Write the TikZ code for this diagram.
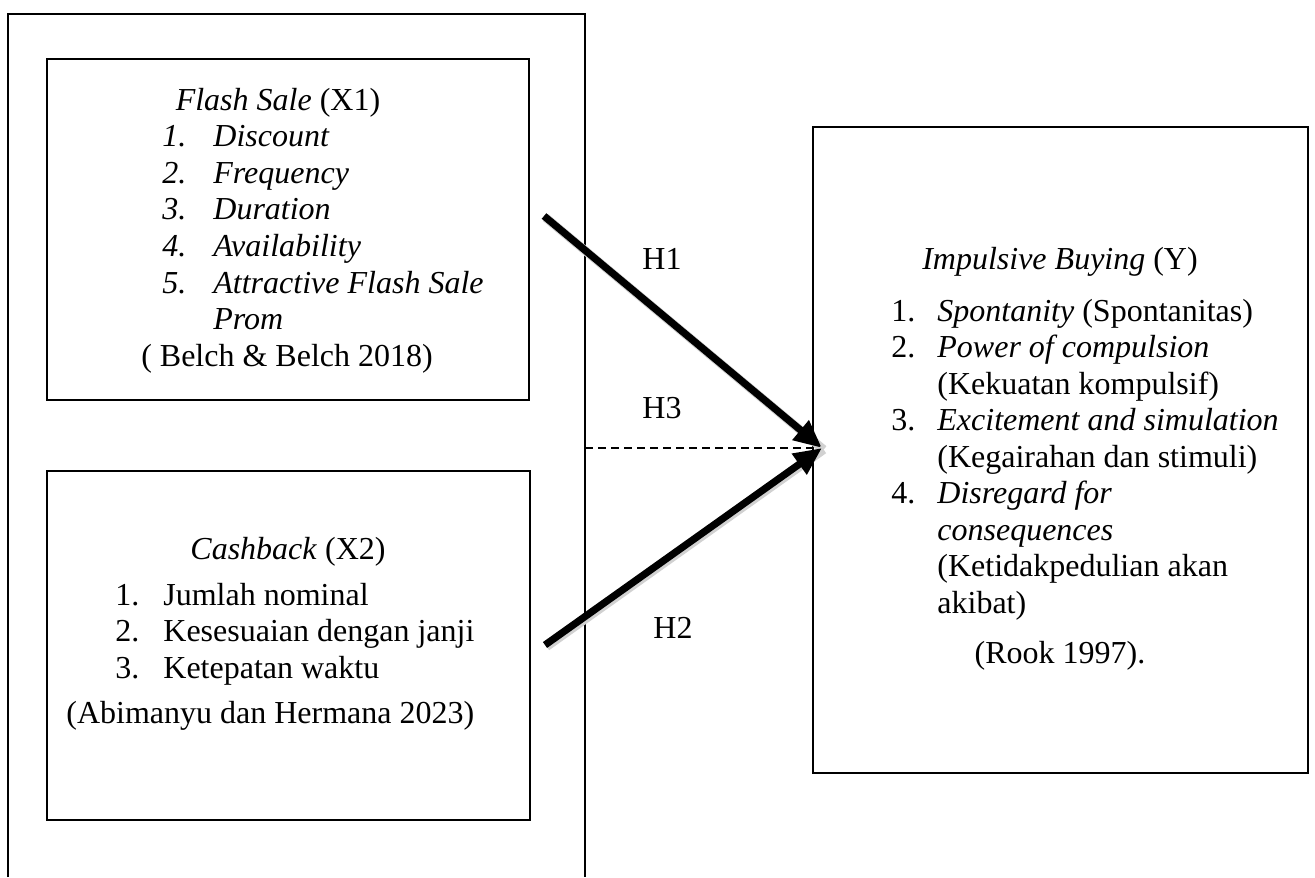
\documentclass[tikz,border=0pt]{standalone}
\usepackage{fontspec}
\setmainfont{Liberation Serif}
\usetikzlibrary{arrows.meta}
\tikzset{
  txt/.style={anchor=base west, inner sep=0pt, font=\fontsize{16pt}{18pt}\selectfont},
  ctxt/.style={anchor=base, inner sep=0pt, font=\fontsize{16pt}{18pt}\selectfont},
  boxnode/.style={draw, line width=0.8pt, anchor=north west, inner sep=0pt},
  bigarrow/.style={line width=3.6pt, -{Triangle[length=14pt,width=12pt]}, preaction={draw=black!18, line width=4.4pt, -, transform canvas={xshift=0.8pt,yshift=-0.8pt}}},
  dasharrow/.style={line width=0.6pt, dash pattern=on 4pt off 2.5pt}
}
\begin{document}
\begin{tikzpicture}[x=0.5pt,y=-0.5pt]
\useasboundingbox (0,0) rectangle (1315,877);
% outer frame (open at the bottom)
\draw[line width=0.6pt] (8,877) -- (8,14) -- (585,14) -- (585,877);
% boxes
\node[boxnode, minimum width=241pt, minimum height=170.5pt] (flash) at (46,58) {};
\node[boxnode, minimum width=241.5pt, minimum height=174.5pt] (cash) at (46,470) {};
\node[boxnode, line width=1pt, minimum width=247.5pt, minimum height=323pt] (ybox) at (812,126) {};
% Flash Sale text
\node[ctxt] (fT) at (278,111) {\textit{Flash Sale} (X1)};
\node[txt] (fn1) at (162,147) {\textit{1.}};
\node[txt] (fn2) at (162,183.5) {\textit{2.}};
\node[txt] (fn3) at (162,220) {\textit{3.}};
\node[txt] (fn4) at (162,256.5) {\textit{4.}};
\node[txt] (fn5) at (162,293) {\textit{5.}};
\node[txt] (fi1) at (213,147) {\textit{Discount}};
\node[txt] (fi2) at (213,183.5) {\textit{Frequency}};
\node[txt] (fi3) at (213,220) {\textit{Duration}};
\node[txt] (fi4) at (213,256.5) {\textit{Availability}};
\node[txt] (fi5) at (213,293) {\textit{Attractive Flash Sale}};
\node[txt] (fi6) at (213,329.5) {\textit{Prom}};
\node[ctxt] (fR) at (287,366) {( Belch \& Belch 2018)};
% Cashback text
\node[ctxt] (cT) at (288,559) {\textit{Cashback} (X2)};
\node[txt] (cn1) at (115,605) {1.};
\node[txt] (cn2) at (115,641.5) {2.};
\node[txt] (cn3) at (115,678) {3.};
\node[txt] (ci1) at (163,605) {Jumlah nominal};
\node[txt] (ci2) at (163,641.5) {Kesesuaian dengan janji};
\node[txt] (ci3) at (163,678) {Ketepatan waktu};
\node[txt] (cR) at (66,723) {(Abimanyu dan Hermana 2023)};
% Impulsive Buying text
\node[ctxt] (yT) at (1060,269) {\textit{Impulsive Buying} (Y)};
\node[txt] (yn1) at (891,321) {1.};
\node[txt] (yn2) at (891,357.5) {2.};
\node[txt] (yn3) at (891,430.5) {3.};
\node[txt] (yn4) at (891,503.5) {4.};
\node[txt] (yi1) at (937,321) {\textit{Spontanity} (Spontanitas)};
\node[txt] (yi2) at (937,357.5) {\textit{Power of compulsion}};
\node[txt] (yi2b) at (937,394) {(Kekuatan kompulsif)};
\node[txt] (yi3) at (937,430.5) {\textit{Excitement and simulation}};
\node[txt] (yi3b) at (937,467) {(Kegairahan dan stimuli)};
\node[txt] (yi4) at (937,503.5) {\textit{Disregard for}};
\node[txt] (yi4b) at (937,540) {\textit{consequences}};
\node[txt] (yi4c) at (937,576.5) {(Ketidakpedulian akan};
\node[txt] (yi4d) at (937,613) {akibat)};
\node[ctxt] (yR) at (1060,663) {(Rook 1997).};
% hypothesis labels
\node[txt] (H1) at (642,269) {H1};
\node[txt] (H3) at (642,418) {H3};
\node[txt] (H2) at (653,638) {H2};
% connectors
\coordinate (h1s) at (544,216);
\coordinate (h2s) at (545,645);
\coordinate (h3s) at (585,448);
\coordinate (tip) at (822,448);
\draw[dasharrow] (h3s) -- (tip);
\draw[bigarrow] (h1s) -- (tip);
\draw[bigarrow] (h2s) -- (tip);
\end{tikzpicture}
\end{document}
